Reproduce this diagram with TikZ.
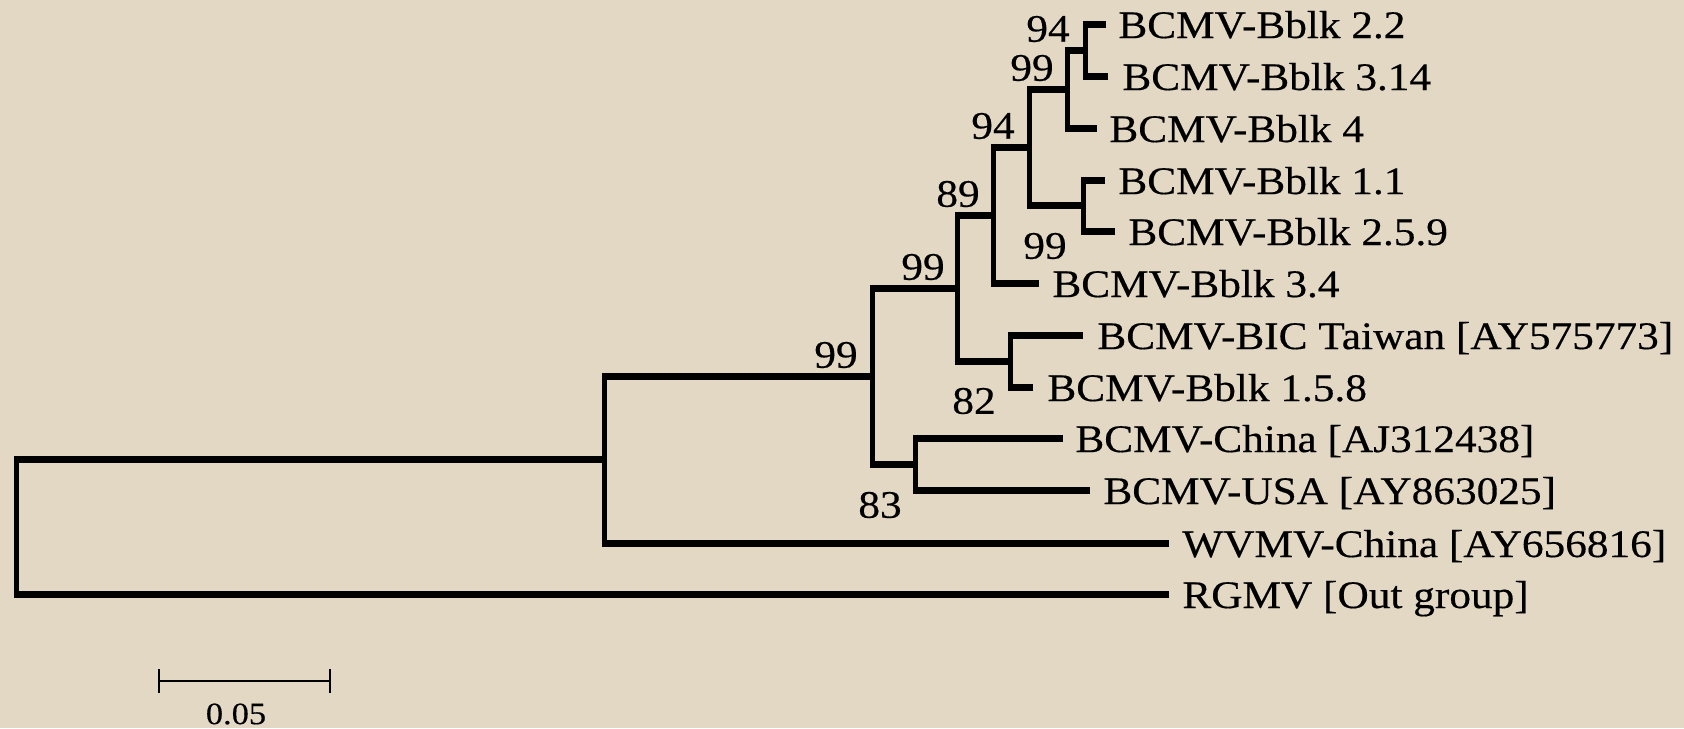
\documentclass[tikz,border=0pt]{standalone}
\usepackage{fontspec}
\setmainfont{Liberation Serif}[FakeStretch=1.11,FakeBold=0.4]
\definecolor{bgtan}{RGB}{226,216,195}
\begin{document}
\begin{tikzpicture}[x=0.5pt,y=-0.5pt,
  hbranch/.style={line width=3.5pt,draw=black,shorten >=-1.25pt},
  vbranch/.style={line width=2.5pt,draw=black,shorten <=-1.75pt,shorten >=-1.75pt},
  leaf/.style={anchor=base west,inner sep=0pt,font=\fontsize{19.5pt}{23pt}\selectfont},
  boot/.style={anchor=center,inner sep=0pt,font=\fontsize{19.5pt}{23pt}\selectfont},
  scalebar/.style={line width=1pt,draw=black}]
\fill[bgtan] (0,0) rectangle (1684,728);
\useasboundingbox (0,0) rectangle (1684,728);
% leaf ends
\coordinate (L22) at (1106,24);
\coordinate (L314) at (1108,76);
\coordinate (L4) at (1097,128);
\coordinate (L11) at (1105,180);
\coordinate (L259) at (1115,231);
\coordinate (L34) at (1039,283);
\coordinate (LTW) at (1083,335);
\coordinate (L158) at (1033,387);
\coordinate (LCN) at (1063,438);
\coordinate (LUS) at (1090,490);
\coordinate (LWV) at (1169,543);
\coordinate (LRG) at (1169,594);
% internal nodes
\coordinate (n1) at (1085,50);
\coordinate (n2) at (1067,89);
\coordinate (n3) at (1083,205);
\coordinate (n4) at (1029,147);
\coordinate (n5) at (993,215);
\coordinate (n6) at (1010,361);
\coordinate (n7) at (957,288);
\coordinate (n8) at (915,464);
\coordinate (n9) at (872,376);
\coordinate (n10) at (604,459);
\coordinate (n0) at (16,527);
% branches: clade(node, upper child, lower child)
\newcommand{\clade}[3]{%
  \draw[hbranch] (#2) -- (#1 |- #2);
  \draw[hbranch] (#3) -- (#1 |- #3);
  \draw[vbranch] (#1 |- #2) -- (#1 |- #3);}
\clade{n1}{L22}{L314}
\clade{n2}{n1}{L4}
\clade{n3}{L11}{L259}
\clade{n4}{n2}{n3}
\clade{n5}{n4}{L34}
\clade{n6}{LTW}{L158}
\clade{n7}{n5}{n6}
\clade{n8}{LCN}{LUS}
\clade{n9}{n7}{n8}
\clade{n10}{n9}{LWV}
\clade{n0}{n10}{LRG}
% leaf labels
\node[leaf] (t22) at (1118,38) {BCMV-Bblk 2.2};
\node[leaf] (t314) at (1122,90) {BCMV-Bblk 3.14};
\node[leaf] (t4) at (1109,142) {BCMV-Bblk 4};
\node[leaf] (t11) at (1118,194) {BCMV-Bblk 1.1};
\node[leaf] (t259) at (1128,245) {BCMV-Bblk 2.5.9};
\node[leaf] (t34) at (1052,297) {BCMV-Bblk 3.4};
\node[leaf] (tTW) at (1097,349) {BCMV-BIC Taiwan [AY575773]};
\node[leaf] (t158) at (1047,401) {BCMV-Bblk 1.5.8};
\node[leaf] (tCN) at (1075,452) {BCMV-China [AJ312438]};
\node[leaf] (tUS) at (1103,504) {BCMV-USA [AY863025]};
\node[leaf] (tWV) at (1182,557) {WVMV-China [AY656816]};
\node[leaf] (tRG) at (1182,608) {RGMV [Out group]};
% bootstrap values
\node[boot] (b1) at (1048,29) {94};
\node[boot] (b2) at (1032,68) {99};
\node[boot] (b4) at (993,126) {94};
\node[boot] (b5) at (958,194) {89};
\node[boot] (b3) at (1045,246) {99};
\node[boot] (b7) at (923,267) {99};
\node[boot] (b9) at (836,355) {99};
\node[boot] (b6) at (974,401) {82};
\node[boot] (b8) at (880,505) {83};
% scale bar
\coordinate (sA) at (159,681);
\coordinate (sB) at (330,681);
\draw[scalebar] (sA) -- (sB);
\draw[scalebar] ([yshift=6pt]sA) -- ([yshift=-6pt]sA);
\draw[scalebar] ([yshift=6pt]sB) -- ([yshift=-6pt]sB);
\node[boot,font=\fontsize{15.5pt}{18pt}\selectfont] (sl) at (236,714) {0.05};
\end{tikzpicture}
\end{document}
